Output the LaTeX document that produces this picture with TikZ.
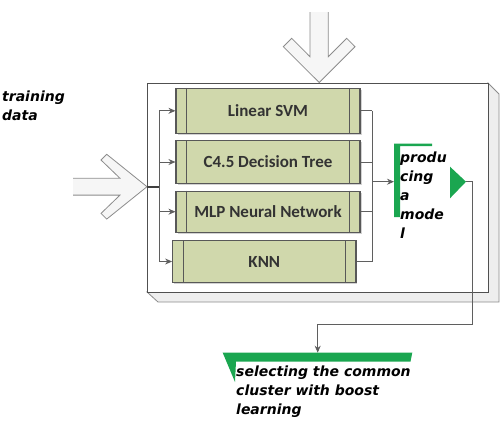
\documentclass[tikz,border=0pt]{standalone}
\usepackage{fontspec}
\setmainfont{Carlito}
\newfontfamily\dv{DejaVu Sans}
\usetikzlibrary{arrows.meta,shadows}
\definecolor{boxfill}{RGB}{208,216,172}
\definecolor{boxline}{RGB}{88,88,88}
\definecolor{grn}{RGB}{26,166,80}
\definecolor{conn}{RGB}{95,95,95}
\definecolor{arrline}{RGB}{140,140,140}
\definecolor{frameline}{RGB}{80,80,80}
\begin{document}
\begin{tikzpicture}[x=1pt,y=-1pt,
 algbox/.style={draw=boxline, line width=1.1pt, fill=boxfill, minimum width=184pt, inner sep=0pt,
   font=\fontsize{17}{20}\selectfont\bfseries, text=black!80,
   drop shadow={shadow xshift=1.5pt, shadow yshift=-1.5pt, opacity=.35}},
 link/.style={draw=conn, line width=0.9pt},
 arr/.style={link, -{Stealth[length=7pt,width=6pt]}},
 lbl/.style={font=\dv\fontsize{14}{19}\selectfont\bfseries\itshape, align=left, inner sep=0pt, anchor=north west},
 blockarr/.style={draw=arrline, line width=0.8pt, line join=miter}
]
\useasboundingbox (0,0) rectangle (503,424);
% 3D frame
\filldraw[fill=gray!13, draw=arrline, line width=0.8pt] (488,83) -- (499,94) -- (499,302) -- (158,302) -- (147,292) -- (488,292) -- cycle;
\node[draw=frameline, line width=0.9pt, fill=white, minimum width=341pt, minimum height=209pt, inner sep=0pt] (frame) at (317.5,187.5) {};
% block arrows
\fill[gray!7] (73,178.3) -- (120,178.3) -- (101,160) -- (106.7,154.3) -- (147,186.7) -- (106.7,219.1) -- (101,213.4) -- (120,195.1) -- (73,195.1) -- cycle;
\draw[blockarr] (73,178.3) -- (120,178.3) -- (101,160) -- (106.7,154.3) -- (147,186.7) -- (106.7,219.1) -- (101,213.4) -- (120,195.1) -- (73,195.1);
\fill[gray!7] (310,12) -- (310,56.7) -- (291.7,38.3) -- (283.3,46.7) -- (319.2,82.5) -- (355,46.7) -- (346.7,38.3) -- (328.3,56.7) -- (328.3,12) -- cycle;
\draw[blockarr] (310,12) -- (310,56.7) -- (291.7,38.3) -- (283.3,46.7) -- (319.2,82.5) -- (355,46.7) -- (346.7,38.3) -- (328.3,56.7) -- (328.3,12);
% algorithm boxes
\node[algbox, minimum height=45pt] (svm) at (268,110.8) {Linear SVM};
\node[algbox, minimum height=42.6pt] (c45) at (268,162) {C4.5 Decision Tree};
\node[algbox, minimum height=41.3pt] (mlp) at (268,211.7) {MLP Neural Network};
\node[algbox, minimum width=183.3pt, minimum height=41.6pt] (knn) at (264.3,261.5) {KNN};
\foreach \n in {svm,c45,mlp,knn}
  \draw[boxline, line width=1pt] ([xshift=11.3pt]\n.north west) -- ([xshift=11.3pt]\n.south west)
    ([xshift=-11.3pt]\n.north east) -- ([xshift=-11.3pt]\n.south east);
% green shapes
\fill[grn] (394,143.5) -- (432,143.5) -- (432,146) -- (400,146) -- (400,217) -- (394,217) -- cycle;
\fill[grn] (450,166.7) -- (466,181.7) -- (450,198.3) -- cycle;
\fill[grn] (222.7,352.7) -- (412.3,352.7) -- (410.5,361.5) -- (236,361.5) -- (235,382) -- cycle;
% texts
\node[lbl] (train) at (2,91) {training\\data};
\node[lbl] (prod) at (400,151.5) {produ\\cing\\a\\mode\\l};
\node[lbl] (sel) at (236,366) {selecting the common\\cluster with boost\\learning};
% connectors
\coordinate (tin) at (147,186.7);
\coordinate (bl) at (159.3,186.7);
\draw[line width=2.2pt, draw=black!75] (tin) -- (bl);
\draw[link] (bl |- svm.west) -- (bl |- knn.west);
\foreach \n in {svm,c45,mlp,knn} \draw[arr] (bl |- \n.west) -- (\n.west);
\coordinate (br) at (372.3,181.7);
\foreach \n in {svm,c45,mlp,knn} \draw[link] (\n.east) -- (\n.east -| br);
\draw[link] (br |- svm.east) -- (br |- knn.east);
\coordinate (pin) at (394,181.7);
\draw[arr] (br) -- (pin);
\coordinate (ptip) at (466,181.7);
\coordinate (selin) at (317.7,352.7);
\draw[arr] (ptip) -- (472.7,181.7) |- (317.7,324.3) -- (selin);
\end{tikzpicture}
\end{document}
